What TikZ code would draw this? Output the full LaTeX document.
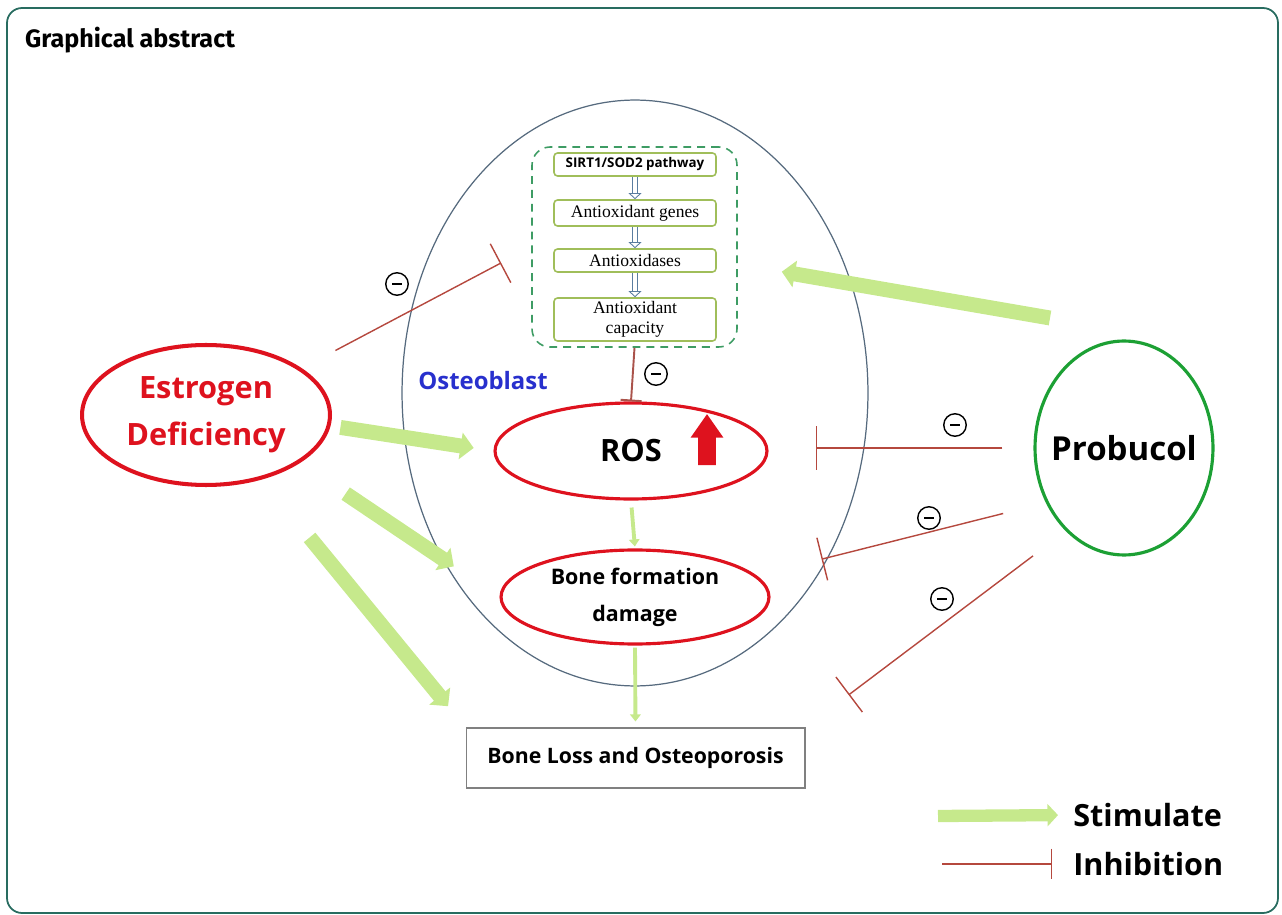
\documentclass[tikz,border=0pt]{standalone}
\usepackage{fontspec}
\setmainfont{Open Sans}
\newfontfamily\titlefont{Fira Sans}
\newfontfamily\boxfont{Liberation Serif}
\usetikzlibrary{arrows.meta,shapes.geometric,shapes.arrows}

\definecolor{stimgreen}{RGB}{198,233,140}
\definecolor{inhred}{RGB}{181,72,62}
\definecolor{ovalred}{RGB}{222,18,30}
\definecolor{probgreen}{RGB}{28,160,52}
\definecolor{cellgray}{RGB}{86,106,126}
\definecolor{dashgreen}{RGB}{62,156,100}
\definecolor{boxolive}{RGB}{160,190,90}
\definecolor{hollowblue}{RGB}{90,125,160}
\definecolor{osteoblue}{RGB}{40,48,205}
\definecolor{frameteal}{RGB}{40,108,96}

\tikzset{
  redoval/.style={ellipse, draw=ovalred, line width=1.8pt, inner sep=0pt, align=center},
  stepbox/.style={draw=boxolive, line width=0.9pt, rounded corners=2pt, minimum width=3.24cm,
    inner sep=0pt, align=center, font=\boxfont\fontsize{10}{11.3}\selectfont},
  stim/.style={stimgreen, line width=8.5pt, -{Triangle[width=15pt,length=7.5pt]}},
  thinstim/.style={stimgreen, line width=2.2pt, -{Triangle[width=6pt,length=4pt]}},
  inhib/.style={inhred, line width=0.8pt, -{Bar[width=25pt]}},
  hollow/.style={hollowblue, line width=0.5pt, double=white, double distance=2.6pt,
    -{Triangle[open,width=7.5pt,length=3.5pt]}},
  negmark/.style={circle, draw, line width=0.8pt, minimum size=0.45cm, inner sep=0pt}
}

\begin{document}
\begin{tikzpicture}[x=0.02cm, y=-0.02cm]
        \useasboundingbox (0,0) rectangle (1282,915);
        \draw[frameteal, line width=1pt, rounded corners=0.3cm] (7,8) rectangle (1278,913);
        \node[anchor=west, font=\titlefont\bfseries\fontsize{14.3}{16}\selectfont] (title) at (19,40) {Graphical abstract};

        % the cell and its pathway
        \node[ellipse, draw=cellgray, line width=0.7pt, minimum width=9.32cm, minimum height=11.72cm] (cell) at (635,393) {};
        \node[font=\bfseries\fontsize{13.6}{15}\selectfont, text=osteoblue] (osteo) at (483,381) {Osteoblast};
        \node[draw=dashgreen, line width=0.9pt, dash pattern=on 4.5pt off 3.4pt, rounded corners=0.36cm,
          minimum width=4.1cm, minimum height=4cm] (path) at (634.5,247) {};
        \node[stepbox, minimum height=0.46cm, font=\bfseries\fontsize{7.6}{9}\selectfont] (sirt) at (635,164.5) {SIRT1/SOD2 pathway};
        \node[stepbox, minimum height=0.52cm] (genes) at (635,213) {Antioxidant genes};
        \node[stepbox, minimum height=0.46cm] (oxid) at (635,260.5) {Antioxidases};
        \node[stepbox, minimum height=0.86cm] (caps) at (635,319.5) {Antioxidant\\capacity};
        \draw[hollow] (sirt) -- (genes);
        \draw[hollow] (genes) -- (oxid);
        \draw[hollow] (oxid) -- (caps);

        % main ovals
        \node[redoval, line width=2.3pt, minimum width=4.96cm, minimum height=2.8cm, text=ovalred,
          font=\bfseries\fontsize{17.5}{26.7}\selectfont] (estro) at (206,415) {Estrogen\\Deficiency};
        \node[redoval, minimum width=5.44cm, minimum height=1.92cm,
          font=\bfseries\fontsize{17.5}{20}\selectfont] (ros) at (631,451) {ROS};
        \node[single arrow, fill=ovalred, rotate=90, inner xsep=0pt, inner ysep=0.17cm, minimum height=1.02cm,
          single arrow head extend=0.15cm, single arrow tip angle=70] (rosup) at (707,446) {};
        \node[redoval, minimum width=5.36cm, minimum height=1.88cm,
          font=\bfseries\fontsize{12.2}{21}\selectfont] (bone) at (635,597) {Bone formation\\damage};
        \node[draw=gray, line width=0.6pt, minimum width=6.78cm, minimum height=1.2cm,
          font=\bfseries\fontsize{12.1}{14}\selectfont] (loss) at (635.5,758) {Bone Loss and Osteoporosis};
        \node[ellipse, draw=probgreen, line width=1.8pt, minimum width=3.56cm, minimum height=4.28cm] (probucol) at (1124,448) {};
        \node[font=\bfseries\fontsize{18.8}{22}\selectfont] (probtxt) at (probucol) {Probucol};

        % stimulation
        \draw[stim, shorten <=0.2cm, shorten >=0.4cm] (estro.-5) -- (ros.west);
        \draw[stim, shorten <=1.1cm, shorten >=1.1cm] (estro.-27) -- (bone.west);
        \draw[stim, shorten <=1.5cm, shorten >=0.55cm] (estro.-49) -- (loss.north west);
        \coordinate (protail) at (1050,318);
        \draw[stim, shorten >=1.32cm] (protail) -- (oxid.east);
        \draw[thinstim, shorten <=0.14cm, shorten >=0.04cm] (ros.south) -- (bone.north);
        \draw[thinstim, shorten <=0.04cm, shorten >=0.12cm] (bone.south) -- (loss.north);

        % inhibition
        \draw[inhib, shorten <=0.76cm, shorten >=0.68cm] (estro.26) -- (path.west);
        \draw[inhib, inhred!80!gray, line width=1.1pt, -{Bar[width=12pt]}] (path.south) -- (ros.north);
        \draw[inhib, shorten <=0.62cm, shorten >=0.94cm] (probucol.west) -- (probucol.west -| ros.east);
        \draw[inhib, shorten <=0.88cm, shorten >=1.34cm] (probucol.215) -- (bone.10);
        \draw[inhib, shorten <=0.82cm, shorten >=1.08cm] (probucol.235) -- (loss.north east);
        \foreach \nm/\xx/\yy in {negA/397/284, negB/656/374, negC/955/425, negD/929/518, negE/942/599}
          \node[negmark] (\nm) at (\xx,\yy) {\rule{5.5pt}{0.7pt}};

        % legend
        \node[anchor=west, inner sep=0pt, font=\bfseries\fontsize{17.4}{20}\selectfont] (stimtxt) at (1073,815) {Stimulate};
        \node[anchor=west, inner sep=0pt, font=\bfseries\fontsize{17.4}{20}\selectfont] (inhtxt) at (1073,864) {Inhibition};
        \coordinate (legstim) at (938,816);
        \coordinate (leginh) at (942,864);
        \draw[stim, line width=7pt, -{Triangle[width=12.5pt,length=6pt]}, shorten >=0.3cm] (legstim) -- (stimtxt.west);
        \draw[inhib, -{Bar[width=17.6pt]}, shorten >=0.42cm] (leginh) -- (inhtxt.west);
      \end{tikzpicture}
\end{document}
